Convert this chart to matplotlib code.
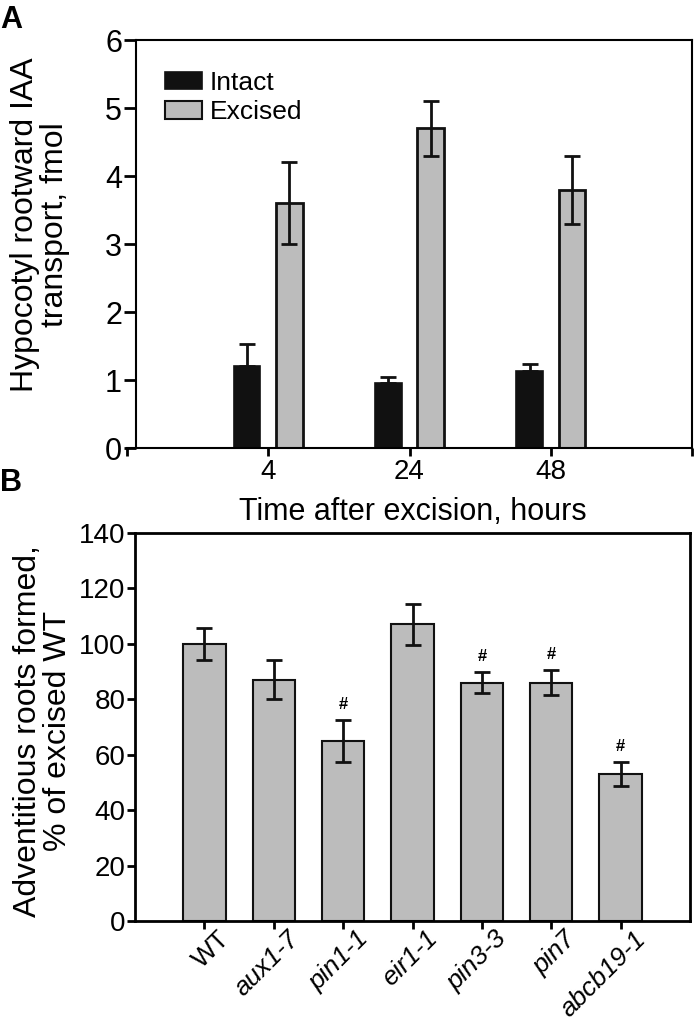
import numpy as np
import matplotlib
matplotlib.use('Agg')
import matplotlib.pyplot as plt
from matplotlib.patches import Patch
from matplotlib.transforms import ScaledTranslation

plt.rcParams['font.family'] = ['Liberation Sans', 'DejaVu Sans']

# --- Panel A data ---
times = ['4', '24', '48']
intact = [1.21, 0.95, 1.13]
intact_err = [0.32, 0.10, 0.10]
excised = [3.6, 4.7, 3.8]
excised_err = [0.6, 0.4, 0.5]

# --- Panel B data ---
lines = ['WT', 'aux1-7', 'pin1-1', 'eir1-1', 'pin3-3', 'pin7', 'abcb19-1']
roots = [100, 87, 65, 107, 86, 86, 53]
roots_err = [5.7, 7, 7.5, 7.5, 3.8, 4.5, 4.4]
signif = [False, False, True, False, True, True, True]

grey = '#bcbcbc'
black = '#111111'

fig = plt.figure(figsize=(6.97, 10.28), dpi=100)

# ---------------- Panel A ----------------
axA = fig.add_axes([127/697, 1-448/1028, 565/697, 408/1028])
pos = np.arange(1, len(times)+1)
off = 0.15
w = 0.19
axA.bar(pos-off, intact, w, color=black, edgecolor=black, linewidth=1.2, label='Intact')
axA.errorbar(pos-off, intact, yerr=[np.zeros(3), intact_err], fmt='none',
             ecolor=black, elinewidth=2, capsize=6, capthick=2)
axA.bar(pos+off, excised, w, color=grey, edgecolor=black, linewidth=2, label='Excised')
axA.errorbar(pos+off, excised, yerr=excised_err, fmt='none',
             ecolor=black, elinewidth=2, capsize=6, capthick=2)

axA.set_xlim(0, 4)
axA.set_ylim(0, 6)
left_x = 9/141.3
axA.spines['left'].set_position(('data', left_x))
axA.spines['top'].set_bounds(left_x, 4)
for s in axA.spines.values():
    s.set_linewidth(1.5)
axA.set_xticks([0, 1, 2, 3, 4])
axA.set_xticklabels([''] + times + [''])
axA.set_yticks(range(7))
axA.tick_params(axis='y', direction='out', length=9, width=2, pad=1, labelsize=22)
axA.tick_params(axis='x', direction='out', length=6, width=2, pad=2, labelsize=20)

axA.set_xlabel('Time after excision, hours', fontsize=22)
axA.xaxis.set_label_coords(0.505, -0.157)
axA.xaxis.label.set_va('center')
axA.set_ylabel('Hypocotyl rootward IAA\ntransport, fmol', fontsize=23, linespacing=1.0)
axA.yaxis.set_label_coords(-0.154, 0.548)
axA.yaxis.label.set_va('center')

handles = [Patch(facecolor=black, edgecolor=black, linewidth=1.2, label='Intact'),
           Patch(facecolor=grey, edgecolor=black, linewidth=1.5, label='Excised')]
axA.legend(handles=handles, loc='upper left', bbox_to_anchor=(0.067, 0.925),
           frameon=False, fontsize=19, handlelength=1.4, handleheight=0.65,
           handletextpad=0.3, labelspacing=0.22, borderaxespad=0, borderpad=0)

fig.text(0.0, 1-20/1028, 'A', fontsize=22, fontweight='bold', ha='left', va='center')

# ---------------- Panel B ----------------
axB = fig.add_axes([135/697, 1-921/1028, 555/697, 388/1028])
xb = np.arange(len(lines))
axB.bar(xb, roots, 0.61, color=grey, edgecolor=black, linewidth=1.5)
axB.errorbar(xb, roots, yerr=roots_err, fmt='none', ecolor=black,
             elinewidth=2, capsize=6, capthick=2)
for i in range(len(lines)):
    if signif[i]:
        axB.text(xb[i], roots[i] + roots_err[i] + 5.5, '#', ha='center', va='center',
                 fontsize=12, fontweight='bold')

axB.set_xlim(-1, 7)
axB.set_ylim(0, 140)
axB.set_yticks(range(0, 141, 20))
axB.set_xticks(xb)
for s in axB.spines.values():
    s.set_linewidth(2)
axB.tick_params(axis='y', direction='out', length=6, width=2, pad=1, labelsize=20)
axB.tick_params(axis='x', direction='out', length=6, width=2, pad=3, labelsize=19)
axB.set_xticklabels(lines, rotation=45, ha='right', va='top', rotation_mode='anchor')
# nudge the rotated labels right and up (after tick_params, which resets transforms)
shift = ScaledTranslation(0.13, 0.07, fig.dpi_scale_trans)
for k, lbl in enumerate(axB.get_xticklabels()):
    if k > 0:
        lbl.set_style('italic')
    lbl.set_transform(lbl.get_transform() + shift)

axB.set_ylabel('Adventitious roots formed,\n% of excised WT', fontsize=23, linespacing=1.0)
axB.yaxis.set_label_coords(-0.165, 0.49)
axB.yaxis.label.set_va('center')

fig.text(0.0, 1-483/1028, 'B', fontsize=22, fontweight='bold', ha='left', va='center')

fig.savefig('out.png', dpi=100)
